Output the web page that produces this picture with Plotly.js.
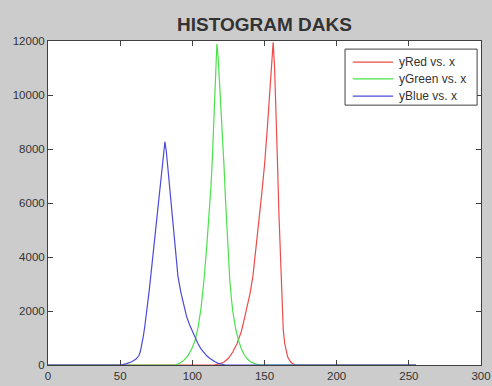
<!DOCTYPE html>
<html>
<head>
<meta charset="utf-8">
<script src="https://cdn.plot.ly/plotly-3.0.1.min.js"></script>
<style>
  html, body { margin: 0; padding: 0; background: #cccccc; }
  #chart { width: 492px; height: 386px; }
</style>
</head>
<body>
<div id="chart"></div>
<script>
// ---- data ----
const xRed   = [0, 115, 119, 122, 125, 128, 131, 134, 136, 138, 140, 142, 144, 146, 148, 150, 152, 154, 155, 156, 157, 158, 159, 160, 161, 162, 163, 164, 165, 166, 168, 170, 172, 255];
const yRed   = [0, 0, 40, 110, 250, 480, 800, 1250, 1700, 2150, 2650, 3300, 4200, 5300, 6300, 7400, 8800, 10500, 11300, 11950, 11000, 9500, 7500, 5600, 4000, 2500, 1300, 800, 500, 300, 120, 30, 0, 0];

const xGreen = [0, 88, 91, 94, 97, 100, 102, 104, 106, 108, 110, 112, 113, 114, 115, 116, 117, 118, 119, 120, 121, 122, 123, 124, 125, 126, 127, 128, 130, 132, 134, 136, 138, 140, 143, 147, 255];
const yGreen = [0, 0, 60, 170, 350, 650, 925, 1400, 2100, 3100, 4400, 5900, 6700, 7800, 9300, 10700, 11900, 11300, 10400, 9500, 8500, 7300, 6100, 4900, 3900, 3100, 2500, 2000, 1350, 900, 600, 380, 230, 130, 50, 0, 0];

const xBlue  = [0, 50, 54, 58, 61, 63, 64, 65, 66, 67, 68, 69, 70, 72, 74, 76, 78, 80, 81, 82, 83, 84, 85, 86, 87, 88, 89, 90, 92, 94, 96, 98, 100, 102, 104, 106, 108, 110, 112, 114, 116, 118, 120, 123, 255];
const yBlue  = [0, 0, 40, 120, 220, 350, 500, 750, 1050, 1400, 1800, 2250, 2700, 3700, 4700, 5700, 6700, 7700, 8270, 7900, 7300, 6700, 6200, 5600, 5000, 4400, 3800, 3300, 2700, 2200, 1800, 1500, 1250, 1000, 780, 600, 450, 340, 250, 170, 110, 60, 30, 0, 0];

const seriesNames = ['yRed vs. x', 'yGreen vs. x', 'yBlue vs. x'];
const xTicks = [0, 50, 100, 150, 200, 250, 300];
const yTicks = [0, 2000, 4000, 6000, 8000, 10000, 12000];
const chartTitle = 'HISTOGRAM DAKS';

// ---- styling ----
const colors = ['rgb(238,75,75)', 'rgb(75,225,75)', 'rgb(75,75,215)'];
const font = 'Liberation Sans, Arial, sans-serif';

const traces = [
  {x: xRed, y: yRed, name: seriesNames[0], type: 'scatter', mode: 'lines', line: {color: colors[0], width: 1.2}},
  {x: xGreen, y: yGreen, name: seriesNames[1], type: 'scatter', mode: 'lines', line: {color: colors[1], width: 1.2}},
  {x: xBlue, y: yBlue, name: seriesNames[2], type: 'scatter', mode: 'lines', line: {color: colors[2], width: 1.2}}
];

// manual legend (paper coords of plot area)
const legBox = {x0: 0.686, x1: 0.991, y0: 0.802, y1: 0.975};
const rowY = [0.935, 0.883, 0.830];
const shapes = [{
  type: 'rect', xref: 'paper', yref: 'paper',
  x0: legBox.x0, x1: legBox.x1, y0: legBox.y0, y1: legBox.y1,
  line: {color: '#404040', width: 1}, fillcolor: 'white'
}];
const annotations = [];
seriesNames.forEach((n, i) => {
  shapes.push({type: 'line', xref: 'paper', yref: 'paper',
    x0: 0.704, x1: 0.797, y0: rowY[i], y1: rowY[i],
    line: {color: colors[i], width: 1.2}});
  annotations.push({xref: 'paper', yref: 'paper', x: 0.806, y: rowY[i],
    xanchor: 'left', yanchor: 'middle', text: n, showarrow: false,
    font: {family: font, size: 12, color: '#333'}});
});

const axisCommon = {
  showline: true, linecolor: '#404040', linewidth: 1,
  mirror: 'ticks', ticks: 'inside', ticklen: 5, tickcolor: '#404040',
  showgrid: false, zeroline: false,
  tickfont: {family: font, size: 11.5, color: '#333'}
};

const layout = {
  width: 492, height: 386,
  paper_bgcolor: '#cccccc', plot_bgcolor: '#ffffff',
  margin: {l: 48, r: 11, t: 41, b: 21, pad: 0},
  showlegend: false,
  title: {text: chartTitle, x: 0.5, xref: 'paper', y: 1 - 24.5 / 386, yref: 'container',
    xanchor: 'center', yanchor: 'middle',
    font: {family: font, size: 19, weight: 'bold', color: '#333'}},
  xaxis: Object.assign({}, axisCommon, {range: [0, 300], tickvals: xTicks}),
  yaxis: Object.assign({}, axisCommon, {range: [0, 12000], tickvals: yTicks, tickformat: 'd'}),
  shapes: shapes,
  annotations: annotations
};

Plotly.newPlot('chart', traces, layout, {displayModeBar: false, staticPlot: true});
</script>
</body>
</html>
